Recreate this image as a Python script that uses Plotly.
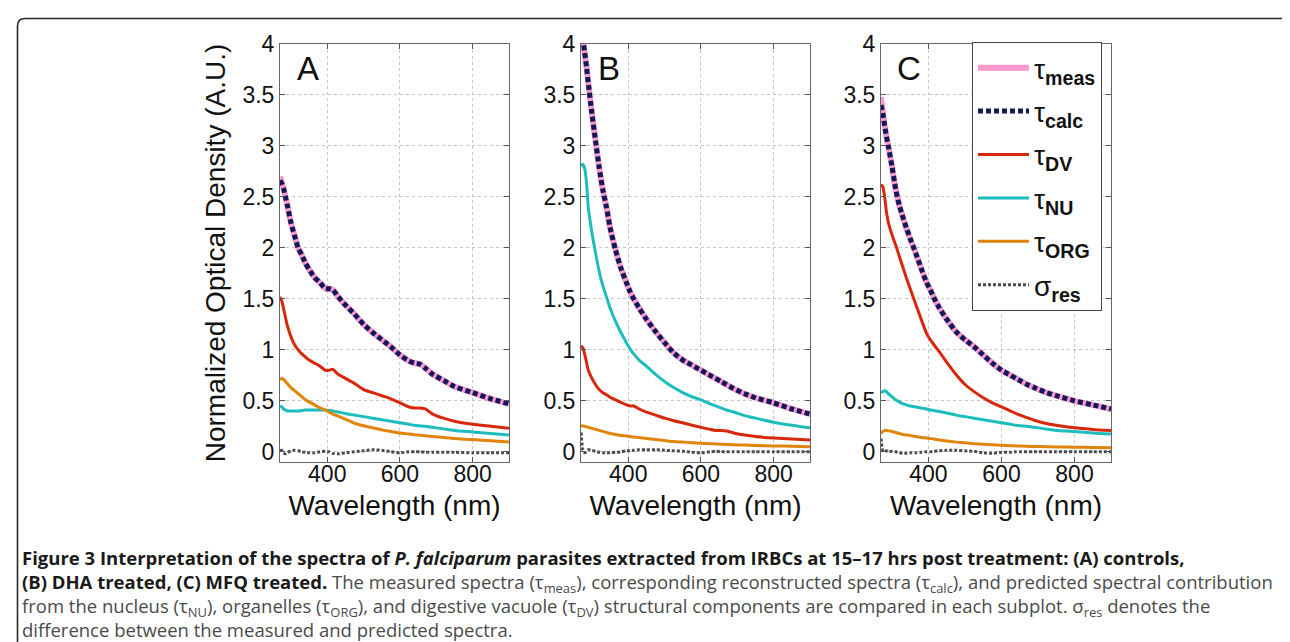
import plotly.graph_objects as go

W, H = 1290, 642

WL = [270, 275, 280, 285, 290, 300, 310, 320, 330, 340, 350, 365, 380, 395, 405, 415, 430,
      450, 475, 500, 525, 550, 575, 600, 625, 640, 655, 670, 690, 720, 750, 800, 850, 900]

# ---- Panel A (controls)
A_meas = [2.70, 2.64, 2.58, 2.50, 2.42, 2.25, 2.12, 2.00, 1.93, 1.85, 1.79, 1.71, 1.66, 1.60, 1.60, 1.59, 1.52,
          1.44, 1.35, 1.25, 1.17, 1.10, 1.03, 0.95, 0.89, 0.87, 0.86, 0.82, 0.76, 0.70, 0.64, 0.58, 0.52, 0.47]
A_calc = [2.66, 2.63, 2.58, 2.50, 2.42, 2.25, 2.12, 2.00, 1.93, 1.85, 1.79, 1.71, 1.66, 1.60, 1.60, 1.59, 1.52,
          1.44, 1.35, 1.25, 1.17, 1.10, 1.03, 0.95, 0.89, 0.87, 0.86, 0.82, 0.76, 0.70, 0.64, 0.58, 0.52, 0.47]
A_dv = [1.52, 1.48, 1.40, 1.32, 1.24, 1.13, 1.05, 1.00, 0.96, 0.93, 0.90, 0.87, 0.84, 0.80, 0.80, 0.81, 0.76,
        0.72, 0.67, 0.61, 0.58, 0.55, 0.52, 0.48, 0.44, 0.43, 0.43, 0.42, 0.37, 0.33, 0.30, 0.27, 0.25, 0.23]
A_nu = [0.45, 0.44, 0.42, 0.41, 0.40, 0.40, 0.40, 0.40, 0.405, 0.41, 0.41, 0.41, 0.41, 0.41, 0.405, 0.40, 0.39,
        0.375, 0.36, 0.345, 0.33, 0.315, 0.30, 0.285, 0.27, 0.26, 0.255, 0.25, 0.24, 0.225, 0.21, 0.195, 0.18, 0.165]
A_org = [0.71, 0.72, 0.71, 0.69, 0.67, 0.63, 0.60, 0.57, 0.54, 0.51, 0.49, 0.46, 0.43, 0.41, 0.39, 0.37, 0.35,
         0.32, 0.28, 0.255, 0.235, 0.215, 0.20, 0.185, 0.175, 0.168, 0.162, 0.157, 0.15, 0.14, 0.13, 0.12, 0.108, 0.095]
A_res = [0.01, 0.015, -0.01, -0.02, -0.01, 0.01, 0.015, 0.01, 0.0, -0.005, -0.01, -0.01, 0.0, 0.005, 0.0, -0.015, -0.02,
         -0.01, 0.0, 0.01, 0.02, 0.015, 0.0, -0.01, 0.0, 0.0, 0.0, -0.005, -0.005, -0.005, -0.005, -0.01, -0.01, -0.01]

# ---- Panel B (DHA treated)
B_meas = [4.30, 4.05, 3.92, 3.78, 3.62, 3.32, 3.05, 2.79, 2.57, 2.40, 2.20, 1.98, 1.80, 1.66, 1.57, 1.50, 1.41,
          1.30, 1.18, 1.07, 0.97, 0.90, 0.85, 0.80, 0.75, 0.72, 0.69, 0.66, 0.62, 0.57, 0.53, 0.48, 0.42, 0.37]
B_calc = [4.30, 4.05, 3.92, 3.78, 3.62, 3.32, 3.05, 2.79, 2.57, 2.40, 2.20, 1.98, 1.80, 1.66, 1.57, 1.50, 1.41,
          1.30, 1.18, 1.07, 0.97, 0.90, 0.85, 0.80, 0.75, 0.72, 0.69, 0.66, 0.62, 0.57, 0.53, 0.48, 0.42, 0.37]
B_dv = [1.04, 1.02, 0.96, 0.88, 0.80, 0.72, 0.66, 0.61, 0.58, 0.56, 0.535, 0.51, 0.485, 0.46, 0.45, 0.45, 0.42,
        0.39, 0.36, 0.33, 0.305, 0.285, 0.26, 0.24, 0.22, 0.21, 0.21, 0.205, 0.185, 0.165, 0.15, 0.135, 0.125, 0.115]
B_nu = [2.80, 2.82, 2.78, 2.65, 2.40, 2.15, 1.95, 1.77, 1.63, 1.52, 1.41, 1.28, 1.17, 1.07, 1.01, 0.96, 0.90,
        0.84, 0.76, 0.69, 0.63, 0.58, 0.54, 0.51, 0.47, 0.45, 0.43, 0.41, 0.39, 0.355, 0.33, 0.29, 0.26, 0.235]
B_org = [0.25, 0.255, 0.25, 0.245, 0.24, 0.23, 0.22, 0.21, 0.20, 0.19, 0.18, 0.17, 0.16, 0.155, 0.15, 0.145, 0.14,
         0.13, 0.12, 0.11, 0.10, 0.095, 0.09, 0.085, 0.08, 0.077, 0.075, 0.072, 0.07, 0.066, 0.062, 0.058, 0.054, 0.05]
B_res = [0.19, 0.02, -0.01, 0.0, 0.02, 0.015, 0.005, -0.005, -0.01, -0.01, -0.01, -0.005, 0.0, 0.01, 0.01, 0.015, 0.02,
         0.02, 0.02, 0.015, 0.01, 0.005, -0.005, -0.01, 0.0, 0.005, 0.0, 0.0, 0.0, 0.0, 0.0, 0.0, 0.0, 0.0]

# ---- Panel C (MFQ treated)
C_meas = [3.48, 3.33, 3.20, 3.09, 3.00, 2.80, 2.58, 2.42, 2.30, 2.19, 2.09, 1.95, 1.80, 1.66, 1.59, 1.51, 1.41,
          1.30, 1.18, 1.10, 1.03, 0.95, 0.87, 0.80, 0.75, 0.72, 0.69, 0.66, 0.63, 0.585, 0.55, 0.50, 0.46, 0.42]
C_calc = [3.40, 3.32, 3.20, 3.09, 3.00, 2.80, 2.58, 2.42, 2.30, 2.19, 2.09, 1.95, 1.80, 1.66, 1.59, 1.51, 1.41,
          1.30, 1.18, 1.10, 1.03, 0.95, 0.87, 0.80, 0.75, 0.72, 0.69, 0.66, 0.63, 0.585, 0.55, 0.50, 0.46, 0.42]
C_dv = [2.62, 2.60, 2.50, 2.35, 2.25, 2.13, 2.03, 1.92, 1.81, 1.70, 1.60, 1.45, 1.30, 1.16, 1.10, 1.05, 0.98,
        0.88, 0.76, 0.66, 0.59, 0.53, 0.48, 0.44, 0.40, 0.375, 0.355, 0.335, 0.31, 0.28, 0.26, 0.235, 0.22, 0.21]
C_nu = [0.58, 0.59, 0.60, 0.59, 0.57, 0.54, 0.51, 0.49, 0.47, 0.46, 0.45, 0.44, 0.43, 0.42, 0.41, 0.405, 0.395,
        0.38, 0.36, 0.345, 0.33, 0.315, 0.30, 0.285, 0.27, 0.26, 0.255, 0.25, 0.24, 0.225, 0.21, 0.20, 0.185, 0.175]
C_org = [0.18, 0.20, 0.21, 0.21, 0.205, 0.20, 0.19, 0.18, 0.17, 0.165, 0.16, 0.15, 0.14, 0.135, 0.13, 0.125, 0.115,
         0.105, 0.095, 0.088, 0.08, 0.075, 0.07, 0.065, 0.06, 0.058, 0.056, 0.054, 0.052, 0.05, 0.048, 0.045, 0.042, 0.04]
C_res = [0.13, 0.01, 0.0, 0.01, 0.0, 0.005, 0.0, -0.01, -0.015, -0.015, -0.01, -0.01, -0.005, 0.0, 0.0, 0.005, 0.01,
         0.015, 0.015, 0.01, 0.005, -0.01, -0.015, -0.005, -0.005, 0.0, 0.0, 0.0, 0.0, 0.0, 0.0, 0.0, 0.0, 0.0]

PANEL_LETTERS = ["A", "B", "C"]
X_TICKS = [400, 600, 800]
Y_TICKS = [0, 0.5, 1, 1.5, 2, 2.5, 3, 3.5, 4]

SERIES_NAMES = ["τ<sub><b>meas</b></sub>", "τ<sub><b>calc</b></sub>", "τ<sub><b>DV</b></sub>",
                "τ<sub><b>NU</b></sub>", "τ<sub><b>ORG</b></sub>", "σ<sub><b>res</b></sub>"]

panels = [
    [A_meas, A_calc, A_dv, A_nu, A_org, A_res],
    [B_meas, B_calc, B_dv, B_nu, B_org, B_res],
    [C_meas, C_calc, C_dv, C_nu, C_org, C_res],
]

styles = [
    dict(color="#FA9ACC", width=6, dash="solid"),
    dict(color="#14175A", width=5, dash="5px,3px"),
    dict(color="#D7280C", width=3, dash="solid"),
    dict(color="#1DBDBD", width=3, dash="solid"),
    dict(color="#E0840C", width=3, dash="solid"),
    dict(color="#4B4B4B", width=3, dash="3px,2px"),
]

FONT = "Liberation Sans, Arial, sans-serif"

fig = go.Figure()
for pi, series in enumerate(panels):
    ax = "" if pi == 0 else str(pi + 1)
    for si, (vals, st) in enumerate(zip(series, styles)):
        fig.add_trace(go.Scatter(
            x=WL, y=vals, mode="lines", name=SERIES_NAMES[si],
            line=dict(color=st["color"], width=st["width"], dash=st["dash"], shape="spline", smoothing=0.6),
            xaxis="x" + ax, yaxis="y" + ax,
            showlegend=(pi == 2), legendgroup=str(si),
            hoverinfo="skip",
        ))

# plot-area positions (pixels)
x_doms = [(272, 501), (573, 802), (873, 1103)]
y_top, y_bot = 36, 454
ydom = [1 - y_bot / H, 1 - y_top / H]

layout = dict(
    width=W, height=H,
    margin=dict(l=0, r=0, t=0, b=0),
    paper_bgcolor="white", plot_bgcolor="white",
    font=dict(family=FONT, color="#111"),
    showlegend=True,
    legend=dict(
        x=964 / W, y=1 - 34 / H, xanchor="left", yanchor="top",
        bgcolor="white", bordercolor="#444", borderwidth=1,
        font=dict(family=FONT, size=28, color="#111"),
        tracegroupgap=4, traceorder="grouped", itemwidth=51,
    ),
)

annotations = []
for pi, (x0, x1) in enumerate(x_doms):
    ax = "" if pi == 0 else str(pi + 1)
    xa = dict(
        domain=[x0 / W, x1 / W], range=[270, 900], anchor="y" + ax,
        tickvals=X_TICKS, ticks="inside", ticklen=5, tickcolor="#555",
        showline=True, linecolor="#666", linewidth=1, mirror="ticks",
        showgrid=True, gridcolor="#c4c4c4", griddash="dot", gridwidth=1,
        tickfont=dict(family=FONT, size=23, color="#111"), ticklabelstandoff=-9,
        title=dict(text="Wavelength (nm)", font=dict(family=FONT, size=28, color="#111"), standoff=9),
        zeroline=False, automargin=False,
    )
    ya = dict(
        domain=ydom, range=[-0.1, 4], anchor="x" + ax,
        tickvals=Y_TICKS, ticks="inside", ticklen=5, tickcolor="#555",
        showline=True, linecolor="#666", linewidth=1, mirror="ticks",
        showgrid=True, gridcolor="#c4c4c4", griddash="dot", gridwidth=1,
        tickfont=dict(family=FONT, size=23, color="#111"),
        zeroline=False, automargin=False,
    )
    if pi == 0:
        ya["title"] = dict(text="Normalized Optical Density (A.U.)",
                           font=dict(family=FONT, size=28, color="#111"), standoff=8)
    layout["xaxis" + ax] = xa
    layout["yaxis" + ax] = ya
    annotations.append(dict(
        text=PANEL_LETTERS[pi], x=347, y=3.76, xref="x" + ax, yref="y" + ax,
        showarrow=False, font=dict(family=FONT, size=33, color="#111"),
        xanchor="center", yanchor="middle",
    ))

# caption (one multi-line text block)
BOLD = "#1a1a1a"
BODY = "#4a4a4a"
CAP = "Open Sans, sans-serif"
cap_lines = [
    f'<span style="color:{BOLD}"><b>Figure 3 Interpretation of the spectra of <i>P. falciparum</i> parasites extracted from IRBCs at 15–17 hrs post treatment: (A) controls,</b></span>',
    f'<span style="color:{BOLD}"><b>(B) DHA treated, (C) MFQ treated.</b></span><span style="color:{BODY}"> The measured spectra (τ<sub>meas</sub>), corresponding reconstructed spectra (τ<sub>calc</sub>), and predicted spectral contribution</span>',
    f'<span style="color:{BODY}">from the nucleus (τ<sub>NU</sub>), organelles (τ<sub>ORG</sub>), and digestive vacuole (τ<sub>DV</sub>) structural components are compared in each subplot. σ<sub>res</sub> denotes the</span>',
    f'<span style="color:{BODY}">difference between the measured and predicted spectra.</span>',
]
annotations.append(dict(
    text="<br>".join(cap_lines), x=12 / W, y=1 - 535 / H, xref="paper", yref="paper",
    xanchor="left", yanchor="top", showarrow=False, align="left",
    font=dict(family=CAP, size=18.5, color=BODY),
))
layout["annotations"] = annotations

# rounded frame around figure
def px(x):
    return x / W
def py(y):
    return 1 - y / H
frame = (f"M {px(9.5)},{py(642)} L {px(9.5)},{py(18)} Q {px(9.5)},{py(10.5)} {px(17)},{py(10.5)} "
         f"L {px(1282)},{py(10.5)} Q {px(1289)},{py(10.5)} {px(1289)},{py(18)}")
layout["shapes"] = [dict(type="path", path=frame, xref="paper", yref="paper",
                         line=dict(color="#2a2a2a", width=1.6))]

fig.update_layout(**layout)
fig.write_html("out.html")
